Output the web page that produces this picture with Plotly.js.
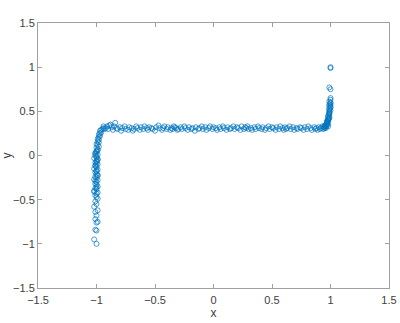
<!DOCTYPE html>
<html>
<head>
<meta charset="utf-8">
<script src="https://cdn.plot.ly/plotly-3.0.1.min.js"></script>
<style>html,body{margin:0;padding:0;background:#fff;}#chart{width:400px;height:323px;}</style>
</head>
<body>
<div id="chart"></div>
<script>
// Left vertical branch (x near -1)
const leftX = [
  -1.02,-1.00,-1.00,-1.01,-1.00,-0.99,-1.01,-1.00,-1.01,-0.99,
  -1.02,-1.00,-1.01,-0.99,-1.00,-1.01,-1.00,-0.99,-1.02,-1.00,
  -1.01,-0.99,-1.00,-1.01,-1.00,-0.99,-1.02,-1.00,-1.01,-0.99,
  -1.00,-1.01,-1.00,-0.99,-1.02,-1.00,-1.01,-0.99,-1.00,-1.01,
  -1.00,-0.99,-1.02,-1.00,-1.01,-0.99,-1.00,-1.01,-1.00,-0.99,
  -1.02,-1.00,-1.01,-0.99,-1.00,-1.01,-1.00,-0.99,-1.01,-1.00,
  -0.99,-1.00,-0.98,-0.99,-1.00,-0.98,-0.99,-0.98,-0.99,-0.98,
  -0.97,-0.98,-0.97,-0.96,-0.97,-0.96,-0.95,-0.94,-0.93,-0.94
];
const leftY = [
  -0.95,-1.00,-0.85,-0.84,-0.76,-0.75,-0.72,-0.68,-0.64,-0.62,
  -0.58,-0.55,-0.52,-0.49,-0.47,-0.45,-0.43,-0.42,-0.40,-0.38,
  -0.37,-0.35,-0.33,-0.32,-0.30,-0.28,-0.27,-0.25,-0.24,-0.22,
  -0.21,-0.19,-0.18,-0.16,-0.15,-0.13,-0.12,-0.10,-0.09,-0.08,
  -0.06,-0.05,-0.03,-0.02,0.00,0.01,-0.01,0.03,0.04,0.06,
  -0.41,-0.36,-0.29,-0.23,-0.17,-0.11,-0.07,-0.04,0.02,0.05,
  0.07,0.09,0.10,0.12,0.13,0.15,0.16,0.18,0.19,0.21,
  0.22,0.24,0.25,0.26,0.28,0.29,0.30,0.31,0.30,0.33
];
// Flat middle section
const flatX = [
  -0.92,-0.91,-0.90,-0.89,-0.88,-0.87,-0.86,-0.85,-0.84,-0.83,
  -0.82,-0.80,-0.79,-0.78,-0.76,-0.75,-0.73,-0.72,-0.70,-0.69,
  -0.68,-0.66,-0.65,-0.63,-0.62,-0.60,-0.59,-0.57,-0.56,-0.55,
  -0.53,-0.52,-0.50,-0.49,-0.47,-0.46,-0.44,-0.43,-0.42,-0.40,
  -0.39,-0.37,-0.36,-0.35,-0.34,-0.33,-0.32,-0.31,-0.30,-0.28,
  -0.27,-0.25,-0.24,-0.22,-0.21,-0.19,-0.18,-0.16,-0.15,-0.13,
  -0.12,-0.10,-0.09,-0.07,-0.06,-0.04,-0.03,-0.01,0.00,0.02,
  0.03,0.05,0.06,0.08,0.09,0.11,0.12,0.14,0.15,0.17,
  0.18,0.20,0.21,0.23,0.24,0.26,0.27,0.28,0.29,0.30,
  0.32,0.33,0.35,0.36,0.38,0.39,0.41,0.42,0.44,0.45,
  0.47,0.48,0.50,0.51,0.53,0.54,0.56,0.57,0.59,0.60,
  0.61,0.62,0.63,0.65,0.66,0.68,0.69,0.71,0.72,0.74,
  0.75,0.77,0.78,0.80,0.81,0.83,0.84,0.86,0.87,0.88,
  0.89,0.90,0.91,0.92,0.93,0.94,0.95,0.96,0.94,0.95
];
const flatY = [
  0.31,0.33,0.30,0.34,0.35,0.32,0.29,0.33,0.37,0.31,
  0.30,0.32,0.28,0.31,0.33,0.30,0.29,0.32,0.31,0.28,
  0.30,0.33,0.31,0.29,0.32,0.30,0.33,0.31,0.29,0.32,
  0.31,0.30,0.28,0.32,0.34,0.31,0.29,0.31,0.33,0.30,
  0.32,0.29,0.31,0.30,0.33,0.32,0.31,0.29,0.30,0.32,
  0.30,0.33,0.31,0.29,0.32,0.30,0.31,0.28,0.32,0.30,
  0.31,0.33,0.30,0.32,0.29,0.31,0.33,0.30,0.32,0.31,
  0.29,0.32,0.30,0.33,0.31,0.29,0.32,0.30,0.31,0.33,
  0.30,0.32,0.31,0.29,0.33,0.30,0.32,0.31,0.33,0.30,
  0.31,0.29,0.32,0.30,0.33,0.31,0.30,0.32,0.29,0.31,
  0.33,0.30,0.32,0.31,0.29,0.32,0.30,0.33,0.31,0.29,
  0.32,0.30,0.31,0.33,0.30,0.32,0.29,0.31,0.30,0.32,
  0.31,0.29,0.32,0.30,0.33,0.31,0.29,0.32,0.30,0.31,
  0.29,0.32,0.30,0.31,0.33,0.32,0.34,0.33,0.30,0.31
];
// Right vertical branch (x near 1)
const rightX = [
  0.95,0.96,0.96,0.97,0.96,0.97,0.97,0.98,0.97,0.98,
  0.98,0.97,0.98,0.99,0.98,0.98,0.99,0.98,0.99,0.99,
  0.98,0.99,0.99,1.00,0.99,0.99,1.00,0.99,1.00,0.99,
  1.00,0.99,1.00,1.00,0.99,1.00,1.00,0.99,1.00,1.00,
  1.00
];
const rightY = [
  0.32,0.33,0.35,0.34,0.31,0.36,0.38,0.33,0.39,0.40,
  0.41,0.37,0.42,0.43,0.44,0.45,0.46,0.36,0.47,0.48,
  0.39,0.49,0.50,0.51,0.52,0.53,0.54,0.42,0.55,0.56,
  0.57,0.58,0.59,0.60,0.61,0.63,0.65,0.77,0.75,1.00,
  0.99
];

const xTicks = [-1.5,-1,-0.5,0,0.5,1,1.5];
const yTicks = [-1.5,-1,-0.5,0,0.5,1,1.5];
const xTickText = ['\u22121.5','\u22121','\u22120.5','0','0.5','1','1.5'];
const yTickText = ['\u22121.5','\u22121','\u22120.5','0','0.5','1','1.5'];

const xs = leftX.concat(flatX, rightX);
const ys = leftY.concat(flatY, rightY);

const trace = {
  x: xs, y: ys, type: 'scatter', mode: 'markers',
  marker: {symbol: 'circle-open', size: 5, color: '#0072BD', line: {width: 0.7, color: '#0072BD'}},
  hoverinfo: 'skip'
};

const axisCommon = {
  showgrid: false, zeroline: false, showline: true, linecolor: '#a0a0a0', linewidth: 1,
  mirror: 'ticks', ticks: 'inside', ticklen: 4, tickcolor: '#a0a0a0', tickwidth: 1,
  tickfont: {family: 'Liberation Sans, Arial, sans-serif', size: 11, color: '#404040'}
};

const layout = {
  width: 400, height: 323,
  margin: {l: 38, r: 11, t: 23, b: 35},
  paper_bgcolor: '#fff', plot_bgcolor: '#fff',
  showlegend: false,
  xaxis: Object.assign({}, axisCommon, {
    range: [-1.5, 1.5], tickvals: xTicks, ticktext: xTickText, ticklabelstandoff: 2,
    title: {text: 'x', standoff: 2, font: {family: 'Liberation Sans, Arial, sans-serif', size: 12, color: '#404040'}}
  }),
  yaxis: Object.assign({}, axisCommon, {
    range: [-1.5, 1.5], tickvals: yTicks, ticktext: yTickText,
    title: {text: 'y', standoff: 6, font: {family: 'Liberation Sans, Arial, sans-serif', size: 12, color: '#404040'}}
  })
};

Plotly.newPlot('chart', [trace], layout, {displayModeBar: false, staticPlot: true});
</script>
</body>
</html>
